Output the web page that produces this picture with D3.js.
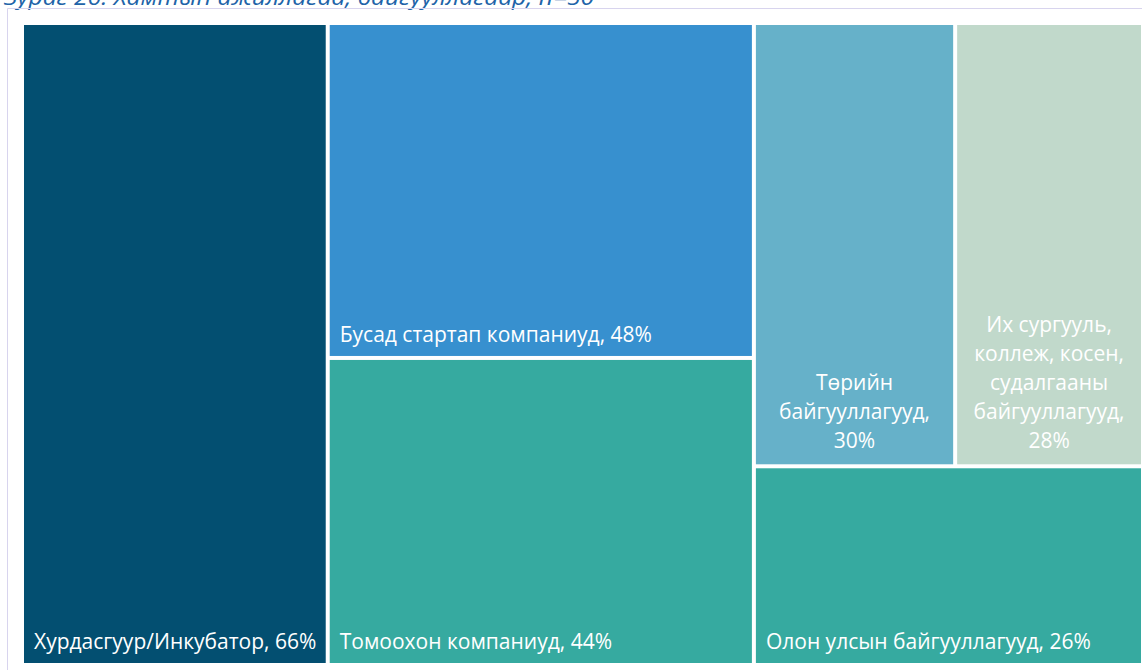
<!DOCTYPE html>
<html>
<head>
<meta charset="utf-8">
<script src="https://cdn.jsdelivr.net/npm/d3@7"></script>
<style>
    body { margin: 0; background: #ffffff; }
    svg { display: block; }
</style>
</head>
<body>
<svg id="chart" width="1142" height="670"></svg>
<script>
// data
var names = ["Хурдасгуур/Инкубатор", "Бусад стартап компаниуд", "Томоохон компаниуд",
    "Төрийн байгууллагууд", "Их сургууль, коллеж, косен, судалгааны байгууллагууд", "Олон улсын байгууллагууд"];
var values = [66, 48, 44, 30, 28, 26];
var colors = ["#034f71", "#3790cf", "#36aaa0", "#66b1c9", "#c1d9cb", "#36aaa0"];
var title = "Зураг 26. Хамтын ажиллагаа, байгууллагаар, n=50";

var svg = d3.select("svg#chart"),
    width = +svg.attr("width"),
    height = +svg.attr("height");

// title, mostly cut off by the top edge like in the source
svg.append("text")
    .attr("x", 4)
    .attr("y", 5)
    .attr("font-family", "Open Sans, sans-serif")
    .attr("font-style", "italic")
    .attr("font-size", 21)
    .attr("fill", "#2163a8")
    .attr("textLength", 590)
    .attr("lengthAdjust", "spacingAndGlyphs")
    .text(title);

// frame
svg.append("path")
    .attr("d", "M7.5," + height + "V8.5H" + width)
    .attr("fill", "none")
    .attr("stroke", "#d8d4ee")
    .attr("stroke-width", 1);

// grouping the way the boxes sit in the picture
var leaf = i => ({ name: names[i], value: values[i], color: colors[i], idx: i });
var tree = {
    name: "root",
    children: [
        leaf(0),
        { name: "col2", children: [leaf(1), leaf(2)] },
        { name: "col3", children: [{ name: "top", children: [leaf(3), leaf(4)] }, leaf(5)] }
    ]
};

var root = d3.hierarchy(tree).sum(d => d.value || 0);

d3.treemap()
    .tile(d3.treemapSliceDice)
    .size([1117, 638])
    .paddingInner(4)
    .round(false)(root);

var g = svg.append("g").attr("transform", "translate(24,25)");

var cells = g.selectAll("g")
    .data(root.leaves())
    .enter()
    .append("g");

cells.append("rect")
    .attr("x", d => d.x0)
    .attr("y", d => d.y0)
    .attr("width", d => d.x1 - d.x0)
    .attr("height", d => d.y1 - d.y0)
    .attr("fill", d => d.data.color);

var fontSize = 21, lineH = 29;

cells.each(function (d) {
    var cell = d3.select(this);
    var label = d.data.name + ", " + d.data.value + "%";
    var maxW = d.x1 - d.x0 - 14;

    var t = cell.append("text")
        .attr("font-family", "Open Sans, sans-serif")
        .attr("font-size", fontSize)
        .attr("fill", "#ffffff");

    var probe = t.text(label).node().getComputedTextLength();
    if (probe <= maxW) {
        t.attr("x", d.x0 + 10).attr("y", d.y1 - 14);
        return;
    }

    // wrap words, then center the block against the bottom
    var words = label.split(" "), lines = [], cur = "";
    words.forEach(w => {
        var test = cur ? cur + " " + w : w;
        t.text(test);
        if (t.node().getComputedTextLength() > maxW && cur) {
            lines.push(cur);
            cur = w;
        } else {
            cur = test;
        }
    });
    lines.push(cur);
    t.text("");
    var cx = (d.x0 + d.x1) / 2;
    var lastY = d.y1 - 16;
    t.attr("text-anchor", "middle");
    lines.forEach((ln, i) => {
        t.append("tspan")
            .attr("x", cx)
            .attr("y", lastY - (lines.length - 1 - i) * lineH)
            .text(ln);
    });
});
</script>
</body>
</html>
